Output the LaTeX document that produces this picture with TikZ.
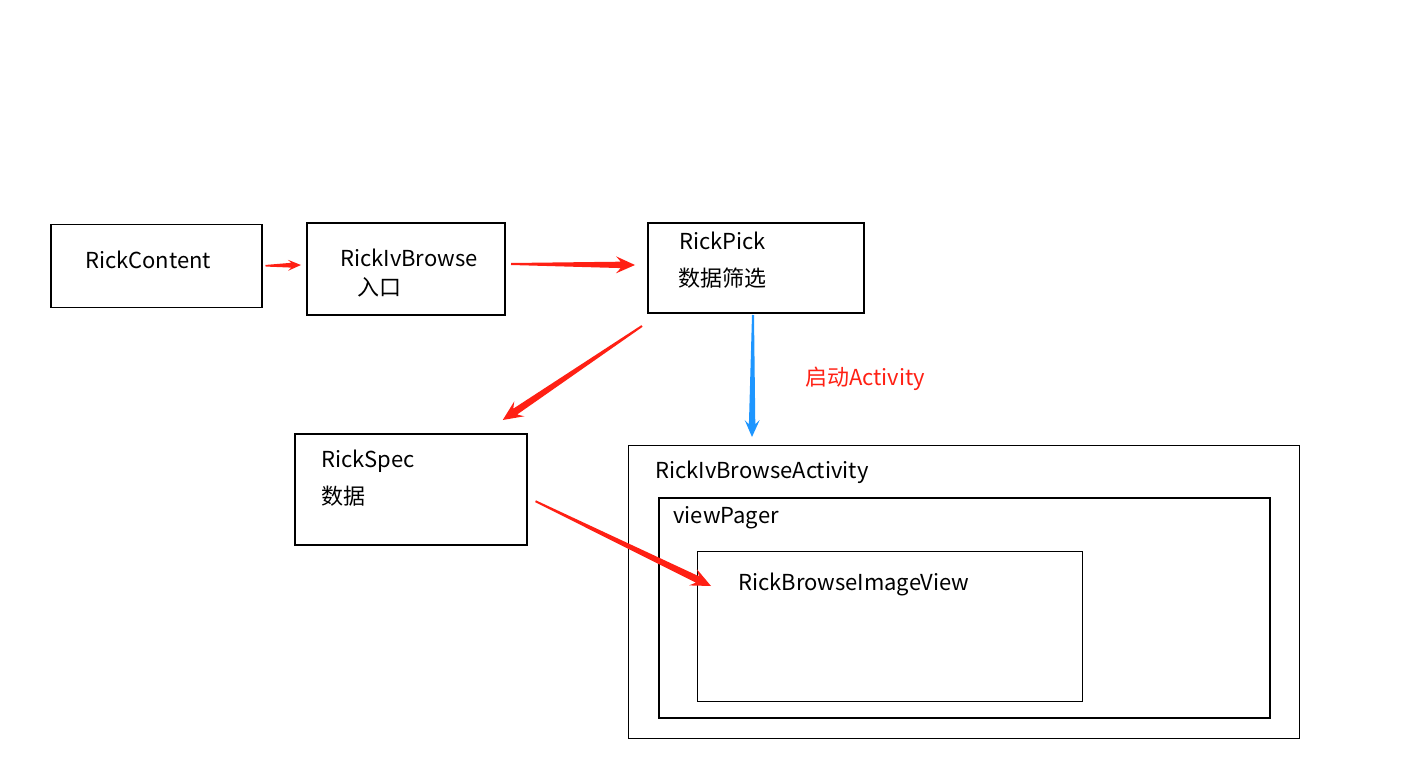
\documentclass[tikz,border=0pt]{standalone}
\usepackage{fontspec}
\setmainfont{Noto Sans CJK SC}
\usetikzlibrary{calc}
\definecolor{arrred}{RGB}{255,32,20}
\definecolor{arrblue}{RGB}{30,150,255}
\tikzset{
  box/.style={draw=black,line width=1.5pt,rectangle,inner sep=0pt,anchor=north west},
  thickbox/.style={box,line width=2pt},
  lbl/.style={anchor=base west,inner sep=0pt,font=\fontsize{22}{25}\selectfont},
  redlbl/.style={lbl,text=arrred},
}
% tapered arrow: #1 start, #2 end, #3 colour, #4 head length, #5 head half width, #6 shaft half width at head, #7 tail half width
\newcommand\taperarrow[7]{%
  \path (#1) coordinate (ta) (#2) coordinate (tb);
  \path ($(tb)!#4!(ta)$) coordinate (tw);
  \path ($(tb)!0.75*#4!(ta)$) coordinate (tc);
  \fill[#3] ($(ta)!#7!90:(tb)$) -- ($(tc)!#6!-90:(ta)$) -- ($(tw)!#5!-90:(ta)$) -- (tb)
     -- ($(tw)!#5!90:(ta)$) -- ($(tc)!#6!90:(ta)$) -- ($(ta)!#7!-90:(tb)$) -- cycle;
}
\begin{document}
\begin{tikzpicture}[x=1pt,y=-1pt]
\useasboundingbox (0,0) rectangle (1428,770);
% boxes
\node[box,minimum width=211pt,minimum height=83pt] (content) at (50,224) {};
\node[thickbox,minimum width=198pt,minimum height=92pt] (ivbrowse) at (306,222) {};
\node[thickbox,minimum width=216pt,minimum height=90pt] (pick) at (647,222) {};
\node[box,minimum width=232pt,minimum height=111pt] (spec) at (294,433) {};
\node[box,line width=1.3pt,minimum width=671pt,minimum height=293pt] (activity) at (628,445) {};
\node[thickbox,minimum width=611pt,minimum height=220pt] (pager) at (658,497) {};
\node[box,line width=1.3pt,minimum width=385pt,minimum height=150pt] (imgview) at (697,551) {};
% labels
\node[lbl] (t1) at (85,269) {RickContent};
\node[lbl] (t2) at (340,267) {RickIvBrowse};
\node[lbl] (t3) at (357,296) {入口};
\node[lbl] (t4) at (679,250) {RickPick};
\node[lbl] (t5) at (678,287) {数据筛选};
\node[lbl] (t6) at (321,467) {RickSpec};
\node[lbl] (t7) at (321,504) {数据};
\node[lbl] (t8) at (655,478) {RickIvBrowseActivity};
\node[lbl] (t9) at (673,523) {viewPager};
\node[lbl] (t10) at (738,590) {RickBrowseImageView};
\node[redlbl] (t11) at (805,385) {启动Activity};
% connector end points
\coordinate (a1s) at ($(content.east)+(3,-0.5)$);
\coordinate (a1e) at ($(ivbrowse.west)+(-5,-4)$);
\coordinate (a2s) at ($(ivbrowse.east)+(5,-5)$);
\coordinate (a2e) at ($(pick.west)+(-12,-3)$);
\coordinate (a3s) at ($(pick.south west)+(-5,12)$);
\coordinate (a3e) at ($(spec.north)+(92,-13)$);
\coordinate (a4s) at ($(pick.south)+(-3,1)$);
\coordinate (a4e) at ($(activity.north west)+(124,-8)$);
\coordinate (a5s) at ($(spec.east)+(8,12)$);
\coordinate (a5e) at ($(imgview.north west)+(14,35)$);
% connectors
\taperarrow{a1s}{a1e}{arrred}{13pt}{5.5pt}{2.4pt}{0.8pt}
\taperarrow{a2s}{a2e}{arrred}{19pt}{8.5pt}{3.2pt}{1pt}
\taperarrow{a3s}{a3e}{arrred}{20pt}{9pt}{3.5pt}{1pt}
\taperarrow{a4s}{a4e}{arrblue}{17pt}{7.5pt}{3.2pt}{1pt}
\taperarrow{a5s}{a5e}{arrred}{20pt}{9pt}{3.5pt}{1pt}
\end{tikzpicture}
\end{document}
